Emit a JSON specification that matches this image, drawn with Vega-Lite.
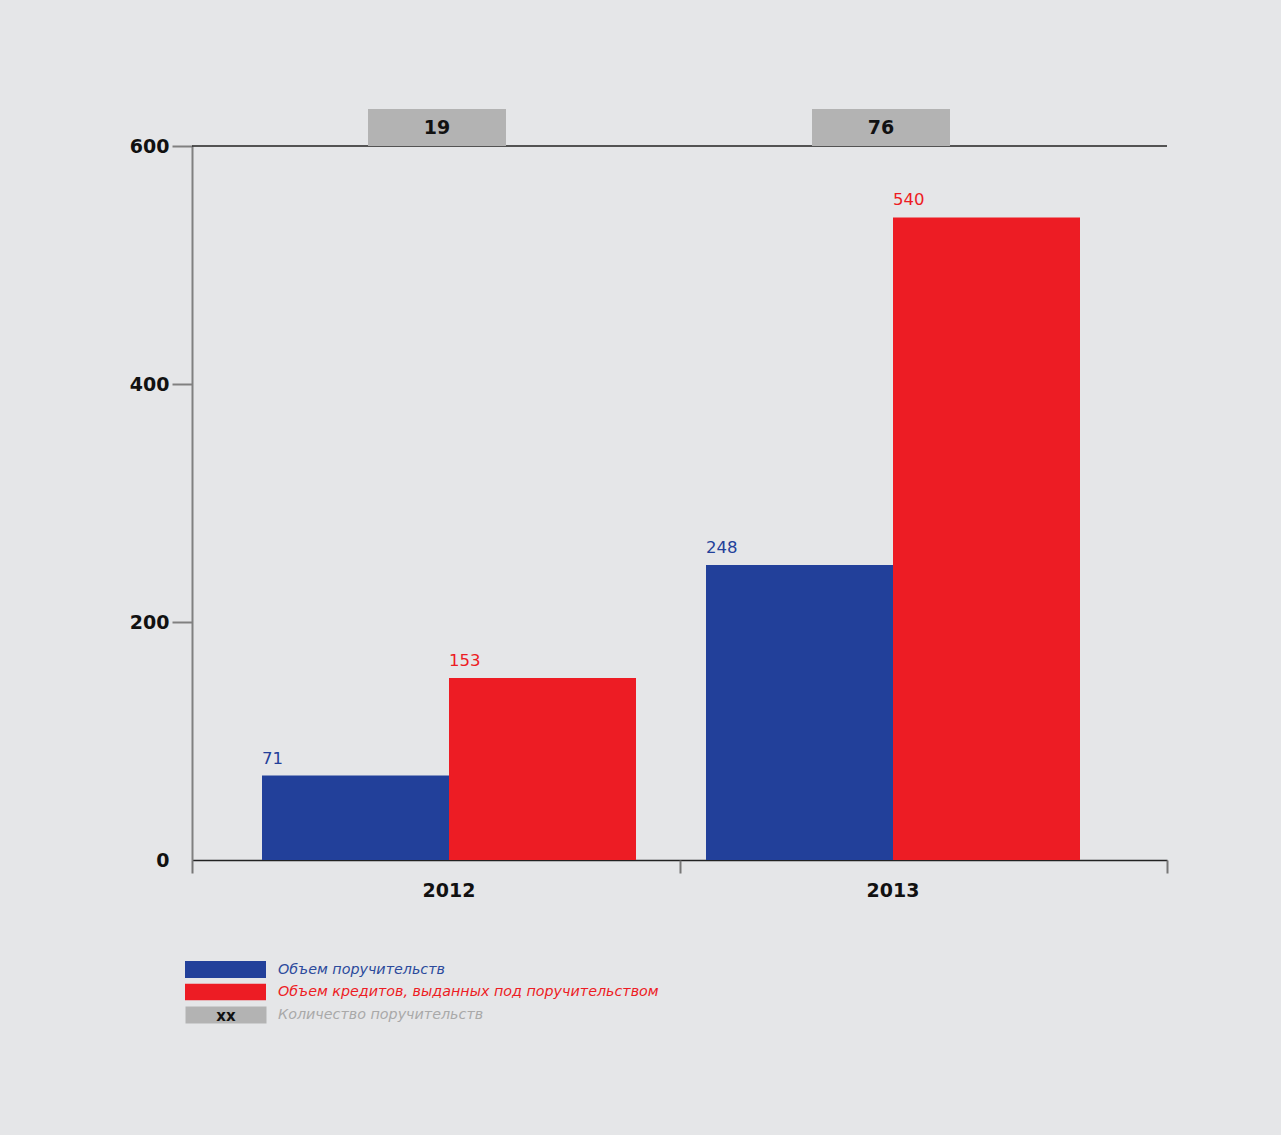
{
  "$schema": "https://vega.github.io/schema/vega-lite/v6.json",
  "width": 975,
  "height": 714,
  "autosize": {"type": "none"},
  "padding": {"left": 192, "top": 146, "right": 114, "bottom": 275},
  "background": "#e5e6e8",
  "config": {"view": {"stroke": null}, "font": "DejaVu Sans"},
  "datasets": {
    "volumes": [
      {"year": "2012", "series": "Объем поручительств", "value": 71},
      {"year": "2012", "series": "Объем кредитов, выданных под поручительством", "value": 153},
      {"year": "2013", "series": "Объем поручительств", "value": 248},
      {"year": "2013", "series": "Объем кредитов, выданных под поручительством", "value": 540}
    ],
    "counts": [
      {"year": "2012", "series": "Количество поручительств", "count": 19},
      {"year": "2013", "series": "Количество поручительств", "count": 76}
    ],
    "marker": [{"label": "xx", "series": "Количество поручительств"}]
  },
  "resolve": {"scale": {"x": "independent"}, "axis": {"x": "independent"}},
  "layer": [
    {
      "layer": [
        {
          "data": {"name": "volumes"},
          "mark": {"type": "bar"},
          "encoding": {
            "x": {
              "field": "year", "type": "nominal", "title": null,
              "scale": {"paddingInner": 0.157658, "paddingOuter": 0.176802, "align": 0.44586},
              "axis": {
                "orient": "bottom", "labelAngle": 0, "ticks": false,
                "domainColor": "#222222", "domainWidth": 1.5,
                "labelFont": "DejaVu Sans", "labelFontWeight": "bold", "labelFontSize": 19,
                "labelColor": "#111111", "labelPadding": 21
              }
            },
            "xOffset": {
              "field": "series", "type": "nominal",
              "sort": ["Объем поручительств", "Объем кредитов, выданных под поручительством"],
              "scale": {"paddingInner": 0, "paddingOuter": 0}
            },
            "y": {
              "field": "value", "type": "quantitative", "title": null,
              "scale": {"domain": [0, 600], "nice": false},
              "axis": {
                "values": [0, 200, 400, 600], "grid": false,
                "domainColor": "#808080", "domainWidth": 2,
                "tickColor": {"condition": {"test": "datum.value === 0", "value": "transparent"}, "value": "#808080"},
                "tickWidth": 2, "tickSize": 20,
                "labelFont": "DejaVu Sans", "labelFontWeight": "bold", "labelFontSize": 19,
                "labelColor": "#111111", "labelPadding": 3
              }
            },
            "color": {
              "field": "series", "type": "nominal",
              "scale": {
                "domain": ["Объем поручительств", "Объем кредитов, выданных под поручительством"],
                "range": ["#22409a", "#ed1c24"]
              },
              "legend": {
                "orient": "none", "legendX": -7, "legendY": 815, "title": null,
                "direction": "vertical", "padding": 0,
                "symbolType": "M-1,-0.21H1V0.21H-1Z", "symbolSize": 6561,
                "symbolStrokeWidth": 0, "symbolOpacity": 1,
                "clipHeight": 17, "rowPadding": 5.5, "labelOffset": 12,
                "labelFont": "DejaVu Sans", "labelFontStyle": "italic", "labelFontSize": 14.3,
                "labelLimit": 700,
                "encode": {
                  "labels": {
                    "update": {
                      "fill": {"signal": "datum.label === 'Объем поручительств' ? '#2b4a9c' : '#ed1c24'"}
                    }
                  }
                }
              }
            }
          }
        },
        {
          "data": {"name": "volumes"},
          "mark": {"type": "text", "align": "left", "baseline": "bottom", "dx": -93.5, "dy": -9, "fontSize": 16.5},
          "encoding": {
            "x": {"field": "year", "type": "nominal", "title": null},
            "xOffset": {
              "field": "series", "type": "nominal",
              "sort": ["Объем поручительств", "Объем кредитов, выданных под поручительством"]
            },
            "y": {"field": "value", "type": "quantitative", "title": null, "scale": {"domain": [0, 600], "nice": false}},
            "text": {"field": "value", "type": "quantitative"},
            "color": {"field": "series", "type": "nominal"}
          }
        },
        {
          "data": {"values": [{}]},
          "mark": {"type": "rule", "color": "#222222", "strokeWidth": 1.5},
          "encoding": {
            "y": {"datum": 600, "type": "quantitative", "title": null, "scale": {"domain": [0, 600], "nice": false}}
          }
        },
        {
          "data": {"name": "counts"},
          "mark": {"type": "bar", "width": 138, "opacity": 1, "xOffset": -12, "color": "#b3b3b3"},
          "encoding": {
            "x": {"field": "year", "type": "nominal", "title": null},
            "y": {"datum": 600, "type": "quantitative", "title": null, "scale": {"domain": [0, 600], "nice": false}},
            "y2": {"datum": 631}
          }
        },
        {
          "data": {"name": "counts"},
          "mark": {"type": "text", "fontWeight": "bold", "fontSize": 19, "color": "#111111", "baseline": "middle", "dx": -12},
          "encoding": {
            "x": {"field": "year", "type": "nominal", "title": null},
            "y": {"datum": 615.5, "type": "quantitative", "title": null, "scale": {"domain": [0, 600], "nice": false}},
            "text": {"field": "count", "type": "quantitative"}
          }
        },
        {
          "data": {"name": "marker"},
          "mark": {"type": "bar", "width": 81, "xOffset": -223, "color": "#b3b3b3", "opacity": 1},
          "encoding": {
            "x": {"datum": "2012", "type": "nominal", "title": null},
            "y": {"datum": -123.1, "type": "quantitative", "title": null, "scale": {"domain": [0, 600], "nice": false}},
            "y2": {"datum": -137.4}
          }
        },
        {
          "data": {"name": "marker"},
          "mark": {"type": "text", "fontWeight": "bold", "fontSize": 15, "color": "#111111", "baseline": "middle", "dx": -223, "dy": 1},
          "encoding": {
            "x": {"datum": "2012", "type": "nominal", "title": null},
            "y": {"datum": -130.3, "type": "quantitative", "title": null, "scale": {"domain": [0, 600], "nice": false}},
            "text": {"field": "label", "type": "nominal"}
          }
        },
        {
          "data": {"name": "marker"},
          "mark": {"type": "text", "fontStyle": "italic", "fontSize": 14.3, "color": "#a9a9a9", "align": "left", "baseline": "middle", "dx": -171},
          "encoding": {
            "x": {"datum": "2012", "type": "nominal", "title": null},
            "y": {"datum": -130.3, "type": "quantitative", "title": null, "scale": {"domain": [0, 600], "nice": false}},
            "text": {"field": "series", "type": "nominal"}
          }
        }
      ]
    },
    {
      "data": {"name": "volumes"},
      "mark": {"type": "rule", "opacity": 0},
      "encoding": {
        "x": {
          "field": "year", "type": "nominal", "title": null,
          "scale": {"paddingInner": 0, "paddingOuter": 0},
          "axis": {
            "orient": "bottom", "tickBand": "extent", "labels": false, "domain": false,
            "tickColor": "#777777", "tickWidth": 2, "tickSize": 13
          }
        }
      }
    }
  ]
}
